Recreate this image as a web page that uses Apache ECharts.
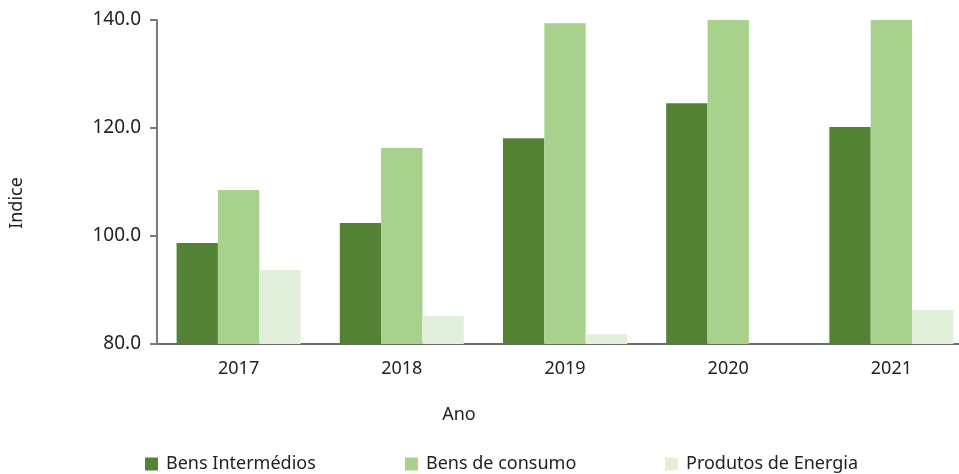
<!DOCTYPE html>
<html>
<head>
<meta charset="utf-8">
<script src="https://cdn.jsdelivr.net/npm/echarts@6/dist/echarts.min.js"></script>
<style>
html, body { margin: 0; padding: 0; background: #fff; overflow: hidden; }
#chart { width: 973px; height: 474px; }
</style>
</head>
<body>
<div id="chart"></div>
<script>
const anos = ['2017', '2018', '2019', '2020', '2021']
const bensIntermedios = [98.7, 102.4, 118.1, 124.6, 120.2]
const bensConsumo = [108.5, 116.3, 139.4, 146.0, 146.0]
const produtosEnergia = [93.7, 85.2, 81.8, 76.0, 86.3]
const yTicks = [80, 100, 120, 140]

const font = 'Noto Sans'
const cores = ['#548235', '#A9D18E', '#E2EFDA']

const chart = echarts.init(document.getElementById('chart'))

function legenda(nome, left) {
  return {
    data: [nome],
    left: left,
    top: 455,
    padding: 0,
    icon: 'rect',
    itemWidth: 13,
    itemHeight: 13,
    itemGap: 0,
    selectedMode: false,
    textStyle: { fontFamily: font, fontSize: 18, color: '#222', padding: [0, 0, 0, 3] }
  }
}

let option = {
  animation: false,
  color: cores,
  grid: { left: 154, right: 0, top: 20, bottom: 130, containLabel: false },
  legend: [
    legenda('Bens Intermédios', 145),
    legenda('Bens de consumo', 405),
    legenda('Produtos de Energia', 665)
  ],
  xAxis: {
    type: 'category',
    data: anos,
    name: 'Ano',
    nameLocation: 'middle',
    nameGap: 62,
    nameTextStyle: { fontFamily: font, fontSize: 18, color: '#222', padding: [0, 0, 0, -212] },
    axisLine: { lineStyle: { color: '#6e6e6e', width: 2 } },
    axisTick: { show: false },
    axisLabel: { fontFamily: font, fontSize: 18, color: '#222', margin: 16 }
  },
  yAxis: {
    type: 'value',
    min: yTicks[0],
    max: yTicks[yTicks.length - 1],
    interval: 20,
    name: 'Indice',
    nameLocation: 'middle',
    nameGap: 131,
    nameRotate: 90,
    nameTextStyle: { fontFamily: font, fontSize: 18, color: '#222', padding: [0, 42, 0, 0] },
    axisLine: { show: true, lineStyle: { color: '#7a7a7a', width: 2 } },
    axisTick: { show: true, length: 7, lineStyle: { color: '#7a7a7a', width: 2 } },
    splitLine: { show: false },
    axisLabel: {
      fontFamily: font, fontSize: 19, color: '#222', margin: 16,
      formatter: v => v.toFixed(1)
    }
  },
  series: [
    { name: 'Bens Intermédios', type: 'bar', data: bensIntermedios, barGap: '0%', barCategoryGap: '24%', clip: true },
    { name: 'Bens de consumo', type: 'bar', data: bensConsumo, barGap: '0%', barCategoryGap: '24%', clip: true },
    { name: 'Produtos de Energia', type: 'bar', data: produtosEnergia, barGap: '0%', barCategoryGap: '24%', clip: true }
  ]
}

chart.setOption(option)
</script>
</body>
</html>
